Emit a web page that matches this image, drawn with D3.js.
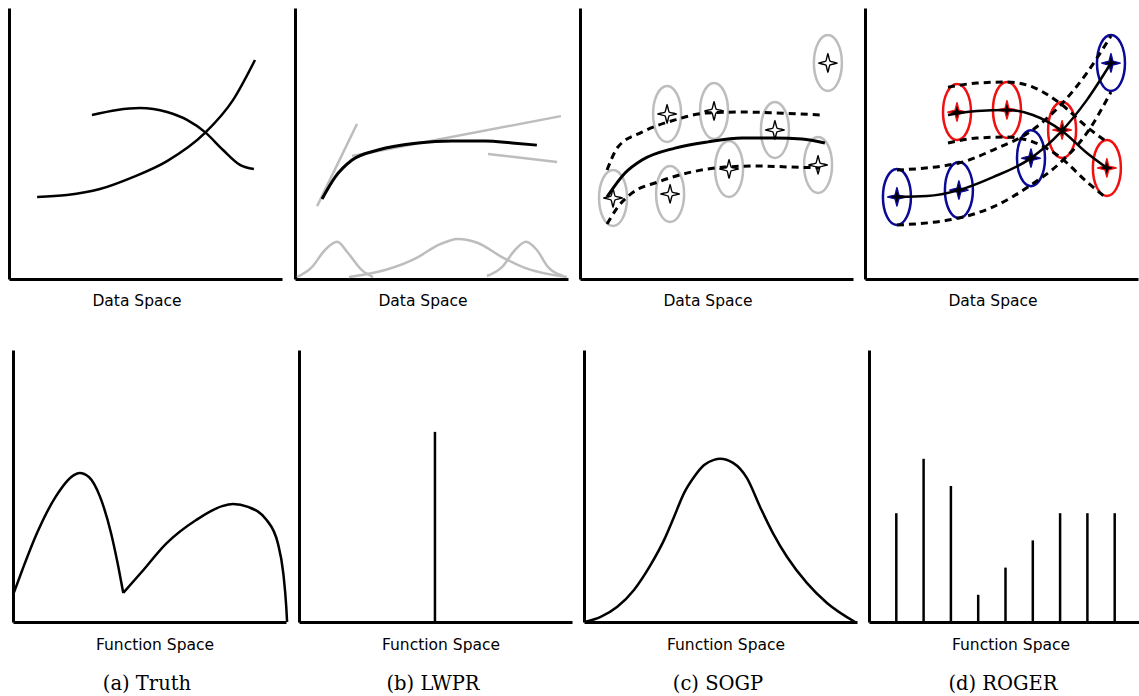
<!DOCTYPE html>
<html>
<head>
<meta charset="utf-8">
<script src="https://cdn.jsdelivr.net/npm/d3@7"></script>
<style>
  html, body { margin: 0; padding: 0; background: #fff; }
  svg { display: block; }
</style>
</head>
<body>
<svg id="chart" width="1139" height="696"></svg>
<script>
// ---- data (panel units: x 0..10, y 0..10) ----
const dataLabels = ['Data Space', 'Data Space', 'Data Space', 'Data Space'];
const fnLabels = ['Function Space', 'Function Space', 'Function Space', 'Function Space'];
const captions = ['(a) Truth', '(b) LWPR', '(c) SOGP', '(d) ROGER'];

// (a) truth, data space
const truthRising = [[1.03,3.03],[2.12,3.10],[3.33,3.32],[4.54,3.76],[5.79,4.35],[7.18,5.39],[8.21,6.61],[9.01,8.08]];
const truthFalling = [[3.04,6.05],[3.96,6.24],[4.80,6.31],[5.79,6.16],[6.52,5.87],[7.18,5.42],[7.84,4.76],[8.46,4.21],[8.97,4.06]];
// (a) truth, function space (two pieces meeting at a cusp)
const truthFnLeft = [[0.03,1.07],[0.34,1.91],[0.88,3.27],[1.56,4.60],[2.23,5.40],[2.44,5.48],[2.78,5.33],[3.19,4.60],[3.59,3.27],[3.86,2.02],[4.04,1.07]];
const truthFnRight = [[4.04,1.07],[4.68,1.80],[5.63,2.90],[6.71,3.75],[7.66,4.26],[8.06,4.34],[8.61,4.23],[9.29,3.75],[9.70,2.90],[9.90,1.80],[10.01,0.55],[10.04,0]];

// (b) LWPR
const lwprFit = [[0.99,2.95],[1.47,3.76],[2.09,4.39],[3.04,4.76],[4.51,5.02],[5.75,5.09],[6.96,5.09],[7.95,5.02],[8.86,4.94]];
const lwprLocalLines = [
  [[0.81,2.69],[2.27,5.72]],
  [[2.09,4.54],[9.74,6.01]],
  [[7.07,4.61],[9.60,4.32]]
];
const lwprKernels = [
  [[0.07,0.07],[0.62,0.44],[1.10,1.07],[1.54,1.37],[1.94,0.96],[2.45,0.33],[2.86,0.07]],
  [[1.98,0.07],[3.30,0.33],[4.51,0.81],[5.24,1.25],[5.97,1.48],[6.70,1.33],[7.58,0.81],[8.42,0.41],[9.96,0.07]],
  [[7.03,0.11],[7.58,0.44],[8.06,1.07],[8.46,1.37],[8.86,1.07],[9.27,0.44],[9.82,0.11]]
];
const lwprSpike = [[4.98, 6.99]];

// (c) SOGP
const sogpPoints = [[1.21,2.99],[3.19,6.09],[4.91,6.20],[3.30,3.14],[5.46,4.06],[7.14,5.50],[8.72,4.21],[9.08,7.97]];
const sogpMean = [[0.99,3.03],[1.65,3.91],[2.27,4.39],[3.48,4.83],[4.69,5.06],[5.93,5.20],[7.14,5.20],[8.13,5.17],[8.97,5.02]];
const sogpUpper = [[0.99,4.02],[1.39,4.87],[2.27,5.42],[3.48,5.87],[4.69,6.13],[5.93,6.16],[7.14,6.13],[8.86,6.05]];
const sogpLower = [[0.99,2.03],[1.39,2.66],[1.90,3.17],[2.86,3.58],[4.10,3.95],[5.31,4.13],[6.52,4.17],[7.77,4.13],[8.79,4.10]];
const sogpFn = [[0.06,0.01],[0.61,0.19],[1.22,0.56],[1.83,1.18],[2.44,2.10],[2.93,3.01],[3.30,3.87],[3.66,4.73],[4.03,5.33],[4.40,5.77],[4.76,5.96],[4.98,6.00],[5.46,5.85],[5.97,5.29],[6.45,4.23],[6.92,3.27],[7.44,2.39],[8.17,1.43],[8.90,0.70],[9.93,0]];

// (d) ROGER
const rogerBluePoints = [[1.17,3.03],[3.44,3.28],[6.08,4.46],[9.01,7.97]];
const rogerRedPoints = [[3.37,6.16],[5.20,6.24],[7.22,5.50],[8.86,4.10]];
const rogerBlueMean = [[1.17,3.03],[2.27,3.06],[3.44,3.28],[4.69,3.76],[6.08,4.46],[7.14,5.39],[8.13,6.61],[9.01,7.97]];
const rogerBlueUpper = [[1.17,4.02],[3.44,4.28],[4.69,4.76],[6.08,5.46],[7.14,6.39],[8.13,7.61],[9.01,8.97]];
const rogerBlueLower = [[1.17,1.99],[3.44,2.25],[4.69,2.66],[6.08,3.47],[7.14,4.28],[8.13,5.39],[9.01,6.90]];
const rogerRedMean = [[3.04,6.05],[4.10,6.20],[5.20,6.24],[6.15,6.05],[7.22,5.46],[8.13,4.65],[8.86,4.10]];
const rogerRedUpper = [[3.04,7.08],[4.10,7.23],[5.20,7.27],[6.15,7.08],[7.14,6.49],[8.13,5.61],[8.86,5.06]];
const rogerRedLower = [[3.04,5.02],[4.10,5.20],[5.20,5.24],[6.15,5.06],[7.14,4.50],[8.13,3.58],[8.79,3.03]];
const rogerSpikeX = [1, 2, 3, 4, 5, 6, 7, 8, 9];
const rogerSpikeH = [4, 6, 5, 1, 2, 3, 4, 4, 4];

// ---- layout ----
const topLefts = [9, 295, 580, 865];
const bottomLefts = [13, 299, 584, 869];
const panelW = 273;
const topRow = { top: 8, bottom: 279 };
const bottomRow = { top: 350, bottom: 622 };
const grayCol = '#bdbdbd';
const blueCol = '#0a0a96';
const redCol = '#f01010';

const svg = d3.select('#chart');

const makeScales = (left, row) => ({
  x: d3.scaleLinear().domain([0, 10]).range([left, left + panelW]),
  y: d3.scaleLinear().domain([0, 10]).range([row.bottom, row.top]),
});

const curveLine = (s) => d3.line()
  .x(d => s.x(d[0]))
  .y(d => s.y(d[1]))
  .curve(d3.curveMonotoneX);

const straightLine = (s) => d3.line()
  .x(d => s.x(d[0]))
  .y(d => s.y(d[1]));

// 4-pointed star outline with concave sides
const starPath = (r) => {
  const inner = r * 0.3;
  const pts = d3.range(8).map(i => {
    const a = i * Math.PI / 4;
    return [a, i % 2 === 0 ? r : inner];
  });
  return d3.lineRadial().curve(d3.curveCardinalClosed.tension(0.6))(pts);
};

const drawAxes = (g, s) => {
  g.append('g')
    .attr('transform', `translate(0,${s.y(0)})`)
    .call(d3.axisBottom(s.x).tickValues([]).tickSizeOuter(0));
  g.append('g')
    .attr('transform', `translate(${s.x(0)},0)`)
    .call(d3.axisLeft(s.y).tickValues([]).tickSizeOuter(0));
  g.selectAll('.domain').attr('stroke', '#000').attr('stroke-width', 3);
};

const addPath = (g, d, gen, opts = {}) => g.append('path')
  .datum(d)
  .attr('d', gen)
  .attr('fill', 'none')
  .attr('stroke', opts.stroke || '#000')
  .attr('stroke-width', opts.width || 2.5)
  .attr('stroke-dasharray', opts.dash || null)
  .attr('stroke-linecap', opts.cap || 'butt');

const drawPoints = (g, s, pts, color, starFill, starStroke) => {
  const pg = g.append('g');
  pg.selectAll('ellipse')
    .data(pts)
    .join('ellipse')
    .attr('cx', d => s.x(d[0]))
    .attr('cy', d => s.y(d[1]))
    .attr('rx', 14)
    .attr('ry', 28)
    .attr('fill', 'none')
    .attr('stroke', color)
    .attr('stroke-width', 2.5);
  pg.selectAll('path.star')
    .data(pts)
    .join('path')
    .attr('class', 'star')
    .attr('transform', d => `translate(${s.x(d[0])},${s.y(d[1])})`)
    .attr('d', starPath(9.5))
    .attr('fill', starFill)
    .attr('stroke', starStroke)
    .attr('stroke-width', 1.4);
};

const dash = '7,5';

const tops = topLefts.map(l => makeScales(l, topRow));
const bots = bottomLefts.map(l => makeScales(l, bottomRow));

// ---- top row: data space ----
// (a)
{
  const s = tops[0], g = svg.append('g');
  drawAxes(g, s);
  addPath(g, truthRising, curveLine(s));
  addPath(g, truthFalling, curveLine(s));
}
// (b)
{
  const s = tops[1], g = svg.append('g');
  drawAxes(g, s);
  lwprLocalLines.forEach(l => addPath(g, l, straightLine(s), { stroke: grayCol }));
  lwprKernels.forEach(k => addPath(g, k, curveLine(s), { stroke: grayCol }));
  addPath(g, lwprFit, curveLine(s), { width: 3 });
}
// (c)
{
  const s = tops[2], g = svg.append('g');
  drawAxes(g, s);
  drawPoints(g, s, sogpPoints, grayCol, '#fff', '#000');
  addPath(g, sogpMean, curveLine(s), { width: 3 });
  addPath(g, sogpUpper, curveLine(s), { width: 3, dash });
  addPath(g, sogpLower, curveLine(s), { width: 3, dash });
}
// (d)
{
  const s = tops[3], g = svg.append('g');
  drawAxes(g, s);
  drawPoints(g, s, rogerBluePoints, blueCol, '#000', blueCol);
  drawPoints(g, s, rogerRedPoints, redCol, '#000', redCol);
  addPath(g, rogerBlueUpper, curveLine(s), { width: 3, dash });
  addPath(g, rogerBlueLower, curveLine(s), { width: 3, dash });
  addPath(g, rogerRedUpper, curveLine(s), { width: 3, dash });
  addPath(g, rogerRedLower, curveLine(s), { width: 3, dash });
  addPath(g, rogerBlueMean, curveLine(s));
  addPath(g, rogerRedMean, curveLine(s));
}

// ---- bottom row: function space ----
{
  const s = bots[0], g = svg.append('g');
  drawAxes(g, s);
  addPath(g, truthFnLeft, curveLine(s));
  addPath(g, truthFnRight, curveLine(s));
}
{
  const s = bots[1], g = svg.append('g');
  drawAxes(g, s);
  g.selectAll('line.spike')
    .data(lwprSpike)
    .join('line')
    .attr('x1', d => s.x(d[0])).attr('x2', d => s.x(d[0]))
    .attr('y1', s.y(0)).attr('y2', d => s.y(d[1]))
    .attr('stroke', '#000').attr('stroke-width', 2.5);
}
{
  const s = bots[2], g = svg.append('g');
  drawAxes(g, s);
  addPath(g, sogpFn, curveLine(s));
}
{
  const s = bots[3], g = svg.append('g');
  drawAxes(g, s);
  g.selectAll('line.spike')
    .data(rogerSpikeX)
    .join('line')
    .attr('x1', d => s.x(d)).attr('x2', d => s.x(d))
    .attr('y1', s.y(0)).attr('y2', (d, i) => s.y(rogerSpikeH[i]))
    .attr('stroke', '#000').attr('stroke-width', 2.5);
}

// ---- labels ----
svg.selectAll('text.dlabel')
  .data(dataLabels)
  .join('text')
  .attr('class', 'dlabel')
  .attr('x', (d, i) => topLefts[i] + 128)
  .attr('y', 306)
  .attr('text-anchor', 'middle')
  .attr('font-family', 'DejaVu Sans')
  .attr('font-size', 15.5)
  .text(d => d);

svg.selectAll('text.flabel')
  .data(fnLabels)
  .join('text')
  .attr('class', 'flabel')
  .attr('x', (d, i) => bottomLefts[i] + 142)
  .attr('y', 650)
  .attr('text-anchor', 'middle')
  .attr('font-family', 'DejaVu Sans')
  .attr('font-size', 15.5)
  .text(d => d);

svg.selectAll('text.caption')
  .data(captions)
  .join('text')
  .attr('class', 'caption')
  .attr('x', (d, i) => bottomLefts[i] + 134)
  .attr('y', 690)
  .attr('text-anchor', 'middle')
  .attr('font-family', 'DejaVu Serif')
  .attr('font-size', 19.5)
  .text(d => d);
</script>
</body>
</html>
